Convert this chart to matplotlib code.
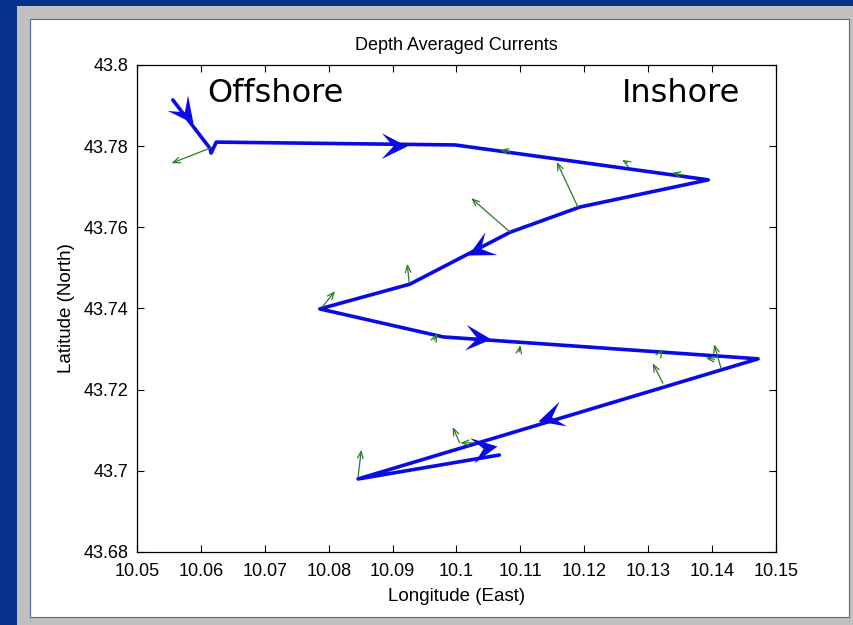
import numpy as np
import matplotlib
matplotlib.use('Agg')
import matplotlib.pyplot as plt
from matplotlib.patches import Rectangle
from matplotlib.path import Path
from matplotlib.markers import MarkerStyle
from matplotlib.transforms import Affine2D

# ship track (lon, lat)
track_lon = [10.0556, 10.0614, 10.0616, 10.0624, 10.0998, 10.1394, 10.1193,
             10.1084, 10.0927, 10.0786, 10.0979, 10.1472, 10.0846, 10.1067]
track_lat = [43.7914, 43.7795, 43.7783, 43.7810, 43.7803, 43.7717, 43.7650,
             43.7588, 43.7460, 43.7399, 43.7330, 43.7276, 43.6980, 43.7039]

# direction arrows on the track: tip position and the track segment they follow
arrow_lon = [10.0588, 10.0923, 10.1018, 10.1054, 10.1128, 10.1063]
arrow_lat = [43.7857, 43.7800, 43.7532, 43.7325, 43.7123, 43.7061]
arrow_seg = [0, 3, 7, 10, 11, 12]

# depth averaged current vectors (start lon, lat and u, v in degrees)
cur_lon = [10.0614, 10.1190, 10.1084, 10.0926, 10.0790, 10.0965, 10.1098,
           10.1323, 10.1414, 10.0846, 10.1005, 10.1029, 10.1084, 10.1267,
           10.1354, 10.1319, 10.1404]
cur_lat = [43.7795, 43.7650, 43.7588, 43.7463, 43.7404, 43.7322, 43.7293,
           43.7216, 43.7253, 43.6985, 43.7069, 43.7069, 43.7786, 43.7759,
           43.7729, 43.7290, 43.7275]
cur_u = [-0.0060, -0.0033, -0.0061, -0.0003, 0.0020, 0.0005, 0.0002,
         -0.0016, -0.0011, 0.0005, -0.0011, -0.0023, -0.0016, -0.0008,
         -0.0017, 0.0004, -0.0014]
cur_v = [-0.0037, 0.0111, 0.0084, 0.0047, 0.0039, 0.0017, 0.0017,
         0.0049, 0.0059, 0.0067, 0.0039, 0.0000, 0.0005, 0.0007,
         0.0005, 0.0010, 0.0003]

xticks = [10.05, 10.06, 10.07, 10.08, 10.09, 10.1, 10.11, 10.12, 10.13, 10.14, 10.15]
xticklabels = ['10.05', '10.06', '10.07', '10.08', '10.09', '10.1', '10.11',
               '10.12', '10.13', '10.14', '10.15']
yticks = [43.68, 43.7, 43.72, 43.74, 43.76, 43.78, 43.8]
yticklabels = ['43.68', '43.7', '43.72', '43.74', '43.76', '43.78', '43.8']

plt.rcParams['font.family'] = ['Liberation Sans', 'DejaVu Sans']

W, H = 854, 625
fig = plt.figure(figsize=(W / 100, H / 100), dpi=100, facecolor='#05338c')

# slide panel
fig.patches.append(Rectangle((17 / W, 0), 1 - 17 / W, 1 - 6 / H,
                             transform=fig.transFigure, facecolor='#c0c0c0',
                             edgecolor='none', zorder=-3))
fig.patches.append(Rectangle((30 / W, 8 / H), 819 / W, 598 / H,
                             transform=fig.transFigure, facecolor='white',
                             edgecolor='#4a66b0', lw=0.8, zorder=-2))

ax = fig.add_axes([137 / W, (H - 552) / H, 639 / W, 487 / H])
ax.set_zorder(1)
ax.set_xlim(10.05, 10.15)
ax.set_ylim(43.68, 43.8)
ax.set_facecolor('white')

ax.plot(track_lon, track_lat, color='#0a0ae6', lw=2.6,
        solid_joinstyle='round', solid_capstyle='round', zorder=3)

green = '#2a7a2a'
for x, y, u, v in zip(cur_lon, cur_lat, cur_u, cur_v):
    ax.annotate('', xy=(x + u, y + v), xytext=(x, y),
                arrowprops=dict(arrowstyle='->,head_length=0.5,head_width=0.2',
                                color=green, lw=0.9, shrinkA=0, shrinkB=0),
                zorder=4)

# barbed arrow head, tip at origin pointing to +x
head = Path([(0, 0), (-1, 0.5), (-0.55, 0), (-1, -0.5), (0, 0)],
            [Path.MOVETO, Path.LINETO, Path.LINETO, Path.LINETO, Path.CLOSEPOLY])
for x, y, s in zip(arrow_lon, arrow_lat, arrow_seg):
    p0 = ax.transData.transform((track_lon[s], track_lat[s]))
    p1 = ax.transData.transform((track_lon[s + 1], track_lat[s + 1]))
    ang = np.degrees(np.arctan2(p1[1] - p0[1], p1[0] - p0[0]))
    m = MarkerStyle(head, transform=Affine2D().rotate_deg(ang))
    ax.plot([x], [y], marker=m, markersize=37, color='#0a0ae6',
            markeredgewidth=0, linestyle='none', zorder=5)

ax.set_xticks(xticks)
ax.set_xticklabels(xticklabels)
ax.set_yticks(yticks)
ax.set_yticklabels(yticklabels)
ax.tick_params(direction='in', length=5, width=0.8, top=True, right=True,
               labelsize=13, pad=6)
ax.tick_params(axis='x', pad=8)
for sp in ax.spines.values():
    sp.set_linewidth(0.9)

ax.set_title('Depth Averaged Currents', fontsize=13, pad=11)
ax.set_xlabel('Longitude (East)', fontsize=13.5, labelpad=6)
ax.set_ylabel('Latitude (North)', fontsize=13.5, labelpad=6)

ax.text(0.1095, 0.924, 'Offshore', transform=ax.transAxes, fontsize=23,
        va='baseline', ha='left', family=['DejaVu Sans'])
ax.text(0.759, 0.924, 'Inshore', transform=ax.transAxes, fontsize=23,
        va='baseline', ha='left', family=['DejaVu Sans'])

fig.savefig('out.png', dpi=100, facecolor=fig.get_facecolor())
